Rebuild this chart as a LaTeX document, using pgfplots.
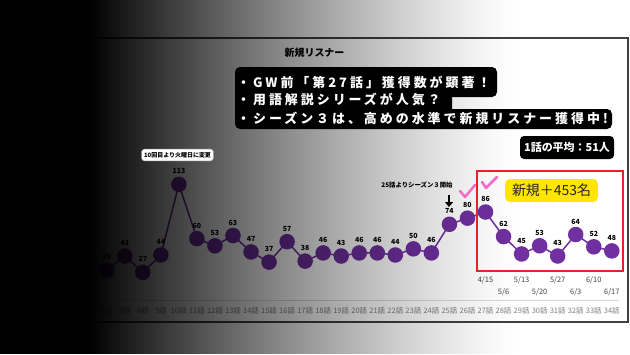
\documentclass[border=0pt]{standalone}
\usepackage{fontspec}
\setmainfont{Noto Sans CJK JP}
\newfontfamily\spaced[LetterSpace=23]{Noto Sans CJK JP}
\usepackage{pgfplots}
\pgfplotsset{compat=1.18}
\usetikzlibrary{arrows.meta}
\definecolor{purp}{HTML}{7030A0}
\definecolor{pinkc}{HTML}{F36BC4}
\definecolor{yel}{HTML}{FFE500}
\definecolor{redc}{HTML}{E8202A}
\definecolor{tickc}{HTML}{7F7F7F}
\definecolor{axc}{HTML}{D9D9D9}

\begin{document}
\begin{tikzpicture}[x=1bp,y=1bp]
\useasboundingbox (0,0) rectangle (630,354);
\fill[white] (0,0) rectangle (630,354);
\draw[draw=black!75, line width=1.2bp] (40,32) rectangle (628,316);
\node[font=\bfseries\fontsize{10}{12}\selectfont] at (314.5,301) {新規リスナー};
\begin{axis}[
  at={(95bp,54bp)}, anchor=south west, scale only axis,
  width=524bp, height=133bp,
  xmin=5.35, xmax=34.4, ymin=0, ymax=130,
  axis y line=none, axis x line*=bottom,
  x axis line style={draw=axc, line width=0.8bp, -},
  major tick length=0,
  xtick={6,...,34},
  xticklabels={6話,7話,8話,9話,10話,11話,12話,13話,14話,15話,16話,17話,18話,19話,20話,21話,22話,23話,24話,25話,26話,27話,28話,29話,30話,31話,32話,33話,34話},
  xticklabel style={font=\fontsize{7.5}{8}\selectfont, text=tickc, anchor=center, yshift=-11bp},
  clip=false,
  /pgf/number format/assume math mode=true,
]
\addplot[purp, line width=1.5bp, mark=*, mark size=7bp, mark options={fill=purp, draw=purp},
  nodes near coords,
  every node near coord/.append style={font=\bfseries\fontsize{7}{8}\selectfont, text=black, anchor=center, yshift=13bp}]
coordinates {
(6,29) (7,43) (8,27) (9,44) (10,113) (11,60) (12,53) (13,63) (14,47) (15,37)
(16,57) (17,38) (18,46) (19,43) (20,46) (21,46) (22,44) (23,50) (24,46) (25,74)
(26,80) (27,86) (28,62) (29,45) (30,53) (31,43) (32,64) (33,52) (34,48)
};
\begin{scope}[every node/.style={font=\fontsize{7.5}{9}\selectfont, text=black!75}]
\node at (axis cs:27,19.5) {4/15};
\node at (axis cs:28,8.1) {5/6};
\node at (axis cs:29,19.5) {5/13};
\node at (axis cs:30,8.1) {5/20};
\node at (axis cs:31,19.5) {5/27};
\node at (axis cs:32,8.1) {6/3};
\node at (axis cs:33,19.5) {6/10};
\node at (axis cs:34,8.1) {6/17};
\end{scope}
\end{axis}
% gradient overlay (adjacent strips on whole pixels)
\fill[black] (0,0) rectangle (90,354);
\foreach \k in {0,...,214}{
  \pgfmathsetmacro\xa{90+2*\k}
  \pgfmathsetmacro\op{pow(1-(2*\k+1)/430,1.3)}
  \fill[black, fill opacity=\op] (\xa,0) rectangle (\xa+2,354);
}
% annotations
\node[fill=white, draw=black!30, rounded corners=3bp, inner xsep=2.5bp, inner ysep=3bp, font=\bfseries\fontsize{6}{7}\selectfont] at (177.5,199) {10回目より火曜日に変更};
\fill[black, rounded corners=5bp] (235,257) rectangle (497,287);
\fill[black, rounded corners=5bp] (235,240) rectangle (452,262);
\fill[black, rounded corners=5bp] (235,225) rectangle (612,245);
\fill[black] (235,232) rectangle (260,280);
\begin{scope}[every node/.style={anchor=west, inner sep=0, text=white, font=\spaced\bfseries\fontsize{13}{15}\selectfont}]
\node at (237,272) {・GW前「第27話」獲得数が顕著！};
\node at (237,254) {・用語解説シリーズが人気？};
\node at (237,236) {・シーズン３は、高めの水準で新規リスナー獲得中!};
\end{scope}
\node[fill=black, rounded corners=4bp, text=white, font=\bfseries\fontsize{11}{13}\selectfont, minimum width=94bp, minimum height=23bp, inner sep=0] at (567,206.5) {1話の平均：51人};
\draw[redc, line width=1.5bp] (477,83) rectangle (623,183);
\node[fill=yel, rounded corners=5bp, minimum width=93bp, minimum height=23bp, inner sep=0, text=black!85, font=\fontsize{14}{16}\selectfont] at (551.5,163.5) {新規＋453名};
\draw[pinkc, line width=2.5bp, line cap=round, line join=round] (460,163) -- (465,157) -- (475,169);
\draw[pinkc, line width=2.5bp, line cap=round, line join=round] (482,172) -- (486,166) -- (497,177);
\node[font=\bfseries\fontsize{6.4}{7}\selectfont] at (417,169) {25話よりシーズン３開始};
\draw[line width=2.5bp, -{Triangle[width=8bp,length=5bp]}] (449,159) -- (449,147);
\end{tikzpicture}
\end{document}
